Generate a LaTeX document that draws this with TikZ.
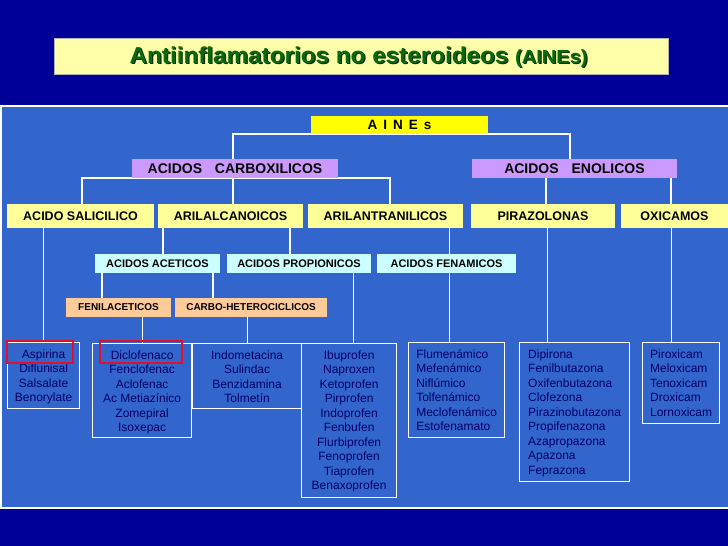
\documentclass[tikz,border=0pt]{standalone}
\usepackage{fontspec}
\setmainfont{Liberation Sans}
\newfontfamily\titlefont[FakeStretch=1.055]{Liberation Sans}
\usetikzlibrary{positioning,backgrounds}

\begin{document}
\begin{tikzpicture}[
  x=1pt,y=-1pt,
  cat/.style={rectangle,fill=#1,text=black,inner sep=0pt},
  lvla/.style={cat=clilac,minimum height=19pt,font=\bfseries\fontsize{14}{16}\selectfont},
  lvlb/.style={cat=cpale,minimum height=24pt,font=\bfseries\fontsize{12.5}{15}\selectfont},
  lvlc/.style={cat=ccyan,minimum height=19pt,font=\bfseries\fontsize{11}{13}\selectfont},
  lvld/.style={cat=cpeach,minimum height=19pt,font=\bfseries\fontsize{10}{12}\selectfont},
  frame/.style={rectangle,draw=white,line width=1.2pt,anchor=north west,inner sep=0pt},
  list/.style={inner xsep=0pt,inner ysep=7.3pt,text=cdrug,font=\fontsize{12}{14.5}\selectfont,align=#1},
  list/.default=center,
  link/.style={draw=white,line width=1.6pt},
  hl/.style={rectangle,draw=cred,line width=2.6pt,inner sep=0pt},
]
  \definecolor{cbg}{HTML}{000099}
  \definecolor{cpanel}{HTML}{3366CC}
  \definecolor{ctitle}{HTML}{FFFFAA}
  \definecolor{cgreen}{HTML}{0A6A0A}
  \definecolor{cshadow}{HTML}{032A03}
  \definecolor{cyellow}{HTML}{FFFF00}
  \definecolor{clilac}{HTML}{CC99FF}
  \definecolor{cpale}{HTML}{FFFF99}
  \definecolor{ccyan}{HTML}{CCFFFF}
  \definecolor{cpeach}{HTML}{FFCC99}
  \definecolor{cdrug}{HTML}{000066}
  \definecolor{cred}{HTML}{E0102A}

  \useasboundingbox (0,0) rectangle (728,546);
  \begin{scope}[on background layer]
    \fill[cbg] (0,0) rectangle (728,546);
    \fill[cpanel] (1,106) rectangle (730,508);
    \draw[white,line width=1.2pt] (730,106) -- (1,106) -- (1,508) -- (730,508);
  \end{scope}

  % title
  \node[rectangle,fill=ctitle,draw=black!30,line width=0.6pt,minimum width=614pt,minimum height=36pt] (titlebox) at (361,56) {};
  \node[text=cshadow,font=\titlefont\bfseries\fontsize{23}{26}\selectfont] (titleshadow) at (359.8,58.2)
       {Antiinflamatorios no esteroideos {\fontsize{19}{22}\selectfont(AINEs)}};
  \node[text=cgreen,font=\titlefont\bfseries\fontsize{23}{26}\selectfont] (title) at (358.6,57)
       {Antiinflamatorios no esteroideos {\fontsize{19}{22}\selectfont(AINEs)}};

  % root
  \node[cat=cyellow,minimum width=177pt,minimum height=18pt,
        font=\bfseries\fontsize{13.5}{15}\selectfont] (aines) at (399.5,125)
       {A\hspace{2.2pt} I\hspace{2.2pt} N\hspace{2.2pt} E\hspace{2.2pt} s};
  % acid families
  \node[lvla,minimum width=206pt] (carbox) at (235,168.5) {ACIDOS\hspace{9pt} CARBOXILICOS};
  \node[lvla,minimum width=205pt] (enol) at (574.5,168.5) {ACIDOS\hspace{9pt} ENOLICOS};
  % groups
  \node[lvlb,minimum width=147pt] (salic) at (80.5,216) {ACIDO SALICILICO};
  \node[lvlb,minimum width=145pt] (arilalc) at (230.5,216) {ARILALCANOICOS};
  \node[lvlb,minimum width=155pt] (arilan) at (385.5,216) {ARILANTRANILICOS};
  \node[lvlb,minimum width=144pt] (piraz) at (543,216) {PIRAZOLONAS};
  \node[lvlb,minimum width=107pt] (oxicam) at (674.5,216) {OXICAMOS};
  % subgroups
  \node[lvlc,minimum width=125pt] (acet) at (157.5,263.5) {ACIDOS ACETICOS};
  \node[lvlc,minimum width=144pt] (propi) at (299,263.5) {ACIDOS PROPIONICOS};
  \node[lvlc,minimum width=139pt] (fenam) at (446.5,263.5) {ACIDOS FENAMICOS};
  \node[lvld,minimum width=105pt] (fenil) at (118.5,307.5) {FENILACETICOS};
  \node[lvld,minimum width=152pt] (carbo) at (251,307.5) {CARBO-HETEROCICLICOS};

  % drug lists
  \node[frame,minimum width=72pt,minimum height=66pt] (aspir) at (7,342) {};
  \node[list,below=0pt of aspir.north] (aspirList)
       {Aspirina\\Diflunisal\\Salsalate\\Benorylate};
  \node[frame,minimum width=99pt,minimum height=94pt] (diclo) at (92,343) {};
  \node[list,below=0pt of diclo.north] (dicloList)
       {Diclofenaco\\Fenclofenac\\Aclofenac\\Ac Metiazínico\\Zomepiral\\Isoxepac};
  \node[frame,minimum width=109pt,minimum height=65pt] (indo) at (192,343) {};
  \node[list,below=0pt of indo.north] (indoList)
       {Indometacina\\Sulindac\\Benzidamina\\Tolmetín};
  \node[frame,minimum width=95pt,minimum height=154pt] (ibu) at (301,343) {};
  \node[list,below=0pt of ibu.north] (ibuList)
       {Ibuprofen\\Naproxen\\Ketoprofen\\Pirprofen\\Indoprofen\\Fenbufen\\Flurbiprofen\\Fenoprofen\\Tiaprofen\\Benaxoprofen};
  \node[frame,minimum width=96pt,minimum height=95pt] (flumen) at (408,342) {};
  \node[list=left,below=0pt of flumen.north] (flumenList)
       {Flumenámico\\Mefenámico\\Niflúmico\\Tolfenámico\\Meclofenámico\\Estofenamato};
  \node[frame,minimum width=110pt,minimum height=139pt] (dipir) at (519,342) {};
  \node[list=left,below=0pt of dipir.north] (dipirList)
       {Dipirona\\Fenilbutazona\\Oxifenbutazona\\Clofezona\\Pirazinobutazona\\Propifenazona\\Azapropazona\\Apazona\\Feprazona};
  \node[frame,minimum width=77pt,minimum height=81pt] (pirox) at (642,342) {};
  \node[list=left,below=0pt of pirox.north] (piroxList)
       {Piroxicam\\Meloxicam\\Tenoxicam\\Droxicam\\Lornoxicam};

  % highlights
  \node[hl,minimum width=66pt,minimum height=22pt] (hlasp) at (40,352) {};
  \node[hl,minimum width=82pt,minimum height=22pt] (hldiclo) at (141,352) {};

  % drop points
  \coordinate (dCarbox) at ([xshift=-2pt]carbox.north);
  \coordinate (dEnol) at ([xshift=-4.5pt]enol.north);
  \coordinate (dSalic) at ([xshift=1.5pt]salic.north);
  \coordinate (dArilan) at ([xshift=4.5pt]arilan.north);
  \coordinate (dArilalc) at ([xshift=2.5pt]arilalc.north);
  \coordinate (dPiraz) at ([xshift=3pt]piraz.north);
  \coordinate (dOxicam) at ([xshift=-3.5pt]oxicam.north);
  \coordinate (dAcet) at ([xshift=5.5pt]acet.north);
  \coordinate (dPropi) at ([xshift=-9pt]propi.north);
  \coordinate (dFenil) at ([xshift=-16.5pt]fenil.north);
  \coordinate (dCarbo) at ([xshift=-38pt]carbo.north);
  \coordinate (dAspir) at (aspir.north);
  \coordinate (dDiclo) at ([xshift=0.5pt]diclo.north);
  \coordinate (dIndo) at ([xshift=0.5pt]indo.north);
  \coordinate (dIbu) at ([xshift=4.5pt]ibu.north);
  \coordinate (dFlumen) at ([xshift=-7pt]flumen.north);
  \coordinate (dDipir) at ([xshift=-27pt]dipir.north);
  \coordinate (dPirox) at ([xshift=-9.5pt]pirox.north);

  % tree lines
  \begin{scope}[on background layer]
    \draw[link] (aines.south) -| (dCarbox);
    \draw[link] (aines.south) -| (dEnol);
    \draw[link] (carbox.south) -| (dSalic);
    \draw[link] (carbox.south) -| (dArilan);
    \foreach \k/\up in {dArilalc/carbox,dPiraz/enol,dOxicam/enol,dAcet/arilalc,dPropi/arilalc,
                        dFenil/acet,dCarbo/acet,dAspir/salic,dDiclo/fenil,dIndo/carbo,
                        dIbu/propi,dFlumen/arilan,dDipir/piraz,dPirox/oxicam}
      \draw[link] (\k) -- (\k |- \up.south);
  \end{scope}
\end{tikzpicture}
\end{document}
